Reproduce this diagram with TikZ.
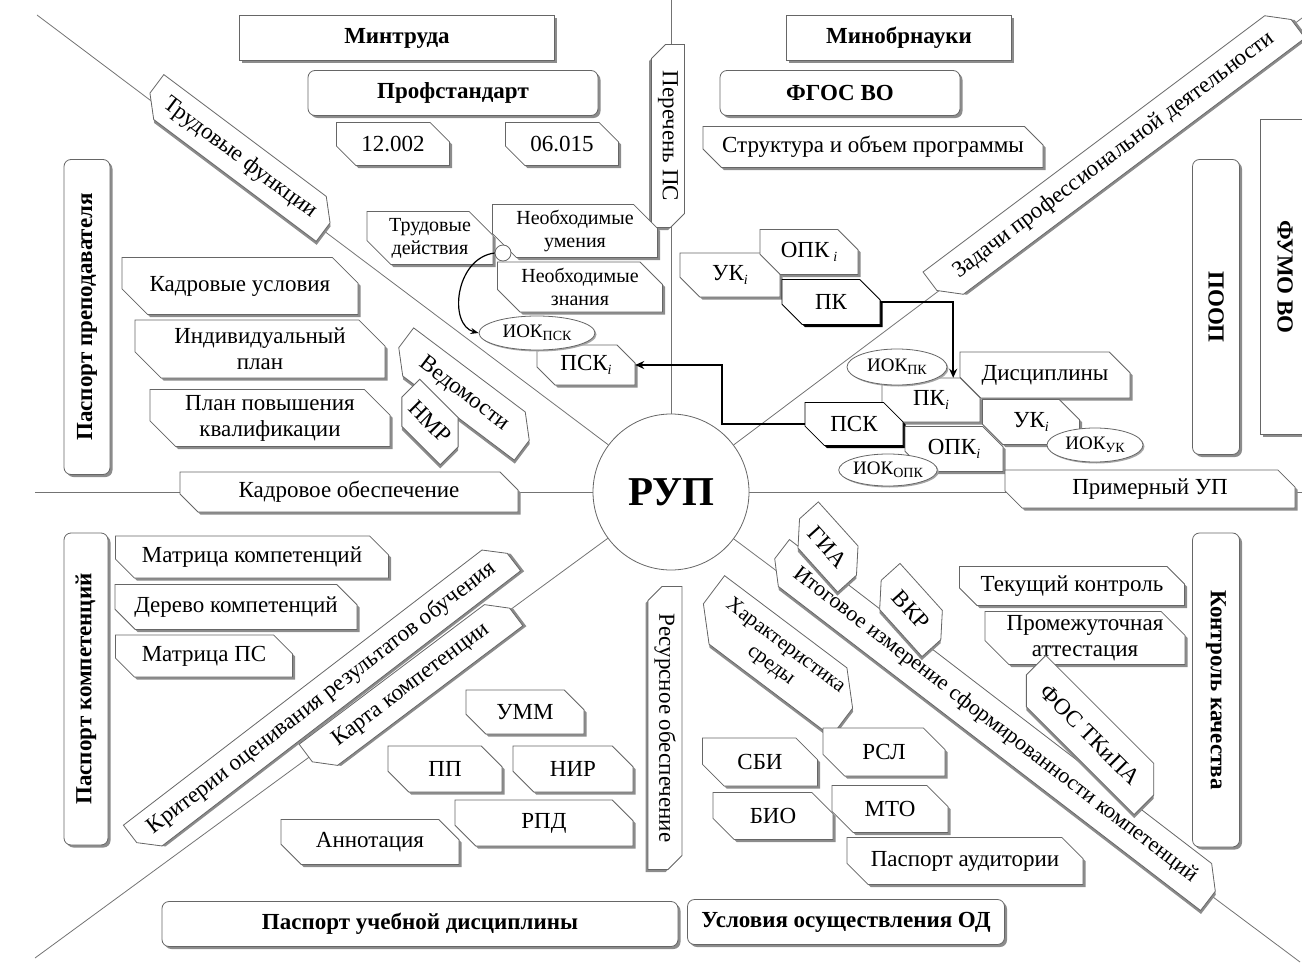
\documentclass[tikz,border=0pt]{standalone}
\usepackage{fontspec}
\setmainfont{Liberation Serif}
\usetikzlibrary{shapes.geometric,calc,arrows.meta}

\def\snipcut{-1}
\newcommand\lowi[1]{\raisebox{-0.35ex}{\fontsize{14}{14}\selectfont #1}}

% box with two snipped corners: [options]{name}{x}{y}{width}{height}{angle}{text}
\newcommand\snipbox[8][]{%
  \begin{scope}[#1]%
    \pgfmathsetmacro\sbw{(#5)/2}%
    \pgfmathsetmacro\sbh{(#6)/2}%
    \pgfmathsetmacro\sbc{\snipcut<0 ? 0.45*(#6) : \snipcut}%
    \begin{scope}[shift={(#3,#4)}, rotate=#7]
      \fill[boxshade, shift={(2.5,2.5)}] (-\sbw,-\sbh) -- (\sbw-\sbc,-\sbh) -- (\sbw,-\sbh+\sbc) -- (\sbw,\sbh) -- (-\sbw+\sbc,\sbh) -- (-\sbw,\sbh-\sbc) -- cycle;
      \filldraw[boxedge] (-\sbw,-\sbh) -- (\sbw-\sbc,-\sbh) -- (\sbw,-\sbh+\sbc) -- (\sbw,\sbh) -- (-\sbw+\sbc,\sbh) -- (-\sbw,\sbh-\sbc) -- cycle;
    \end{scope}
    \node[boxtext, rotate=#7, minimum width=#5, minimum height=#6] (#2) at (#3,#4) {#8};
  \end{scope}}

\begin{document}
\begin{tikzpicture}[x=1pt, y=-1pt,
  boxedge/.style={draw=black!60, line width=0.8pt, fill=white},
  boxshade/.style={fill=black!45},
  boxtext/.style={font=\fontsize{23}{26}\selectfont, align=center, inner sep=0pt},
  small/.style={boxtext/.append style={font=\fontsize{20}{23}\selectfont}},
  mid/.style={boxtext/.append style={font=\fontsize{22}{25}\selectfont}},
  strong/.style={boxshade/.style={fill=black}, boxedge/.append style={draw=black}},
  snipcut/.store in=\snipcut,
  rbox/.style={rectangle, rounded corners=7pt, draw=black!60, line width=0.8pt, fill=white,
    inner sep=0pt, align=center, preaction={fill=black!45, transform canvas={xshift=2.5pt, yshift=-2.5pt}}},
  pbox/.style={rectangle, draw=black!60, line width=0.8pt, fill=white,
    inner sep=0pt, align=center, preaction={fill=black!45, transform canvas={xshift=2.5pt, yshift=-2.5pt}}},
  ttl/.style={font=\fontsize{23}{26}\selectfont\bfseries},
  oval/.style={ellipse, draw=black!60, line width=0.8pt, fill=white, inner sep=0pt, font=\fontsize{19}{21}\selectfont,
    preaction={fill=black!35, transform canvas={xshift=1.5pt, yshift=-1.5pt}}},
  spoke/.style={draw=black!55, line width=0.8pt},
  link/.style={draw=black, line width=1.8pt, -{Stealth[length=9pt,width=8pt]}},
  hub/.style={circle, draw=black!60, line width=0.8pt, fill=white, minimum size=156pt, inner sep=0pt,
    font=\fontsize{41}{41}\selectfont\bfseries}]

\useasboundingbox (0,0) rectangle (1302,966);

% centre and spokes
\node[hub] (rup) at (671,492) {РУП};
\coordinate (nEnd) at (671,0);
\coordinate (wEnd) at (35,492);
\coordinate (eEnd) at (1302,492);
\coordinate (nwEnd) at (37,15);
\coordinate (neEnd) at (1302,18);
\coordinate (swEnd) at (35,958);
\coordinate (seEnd) at (1300,962);
\draw[spoke] (nEnd) -- (rup);
\draw[spoke] (wEnd) -- (rup);
\draw[spoke] (rup) -- (eEnd);
\draw[spoke] (nwEnd) -- (rup);
\draw[spoke] (rup) -- (neEnd);
\draw[spoke] (swEnd) -- (rup);
\draw[spoke] (rup) -- (seEnd);

% top
\node[pbox, ttl, minimum width=315, minimum height=45] (mintr) at (397,38) {Минтруда};
\node[rbox, ttl, minimum width=290, minimum height=45] (prof) at (453,93) {Профстандарт};
\snipbox{s12}{393}{144}{113}{43}{0}{12.002}
\snipbox{s06}{562}{144}{113}{43}{0}{06.015}
\snipbox[snipcut=14]{perech}{668}{136}{183}{33}{-90}{Перечень ПС}
\node[pbox, ttl, minimum width=225, minimum height=45] (minobr) at (899,38) {Минобрнауки};
\node[rbox, ttl, minimum width=240, minimum height=45] (fgos) at (840,93) {ФГОС ВО};
\snipbox{struct}{873}{147}{340}{41}{0}{Структура и объем программы}
\snipbox{zadachi}{1114}{155}{446}{42}{36.87}{Задачи профессиональной деятельности}
\node[pbox, ttl, rotate=-90, minimum width=315, minimum height=50] (fumo) at (1285,277) {ФУМО ВО};
\node[rbox, ttl, rotate=-90, minimum width=295, minimum height=47] (poop) at (1216,307) {ПООП};

% upper left
\snipbox{trudf}{240}{158}{222}{42}{-36.87}{Трудовые функции}
\node[rbox, ttl, rotate=90, minimum width=315, minimum height=46] (pprep) at (87,317) {Паспорт преподавателя};
\snipbox{kadu}{240}{286}{236}{57}{0}{Кадровые условия}
\snipbox{indiv}{260}{349}{250}{58}{0}{Индивидуальный\\план}
\snipbox{plan}{270}{418}{240}{57}{0}{План повышения\\квалификации}
\snipbox{vedom}{464}{394}{160}{45}{-37}{Ведомости}
\snipbox{nmr}{430}{422}{75}{46}{-45}{НМР}
\snipbox[small]{trud}{430}{238}{126}{53}{0}{Трудовые\\действия}
\snipbox[small]{neum}{575}{231}{165}{53}{0}{Необходимые\\умения}
\snipbox[small]{nezn}{580}{287}{165}{50}{0}{Необходимые\\знания}
\snipbox{pski}{586}{365}{98}{40}{0}{ПСК\lowi{\itshape i}}
\node[oval, minimum width=116, minimum height=34] (iokpsk) at (537,333) {ИОК\lowi{ПСК}};
\node[circle, draw=black!60, line width=0.8pt, fill=white, minimum size=16pt, inner sep=0pt] (dot) at (503,253) {};
\snipbox{kadob}{349}{492}{338}{40}{0}{Кадровое обеспечение}

% upper right: competences
\snipbox{uki1}{730}{275}{100}{44}{0}{УК\lowi{\itshape i}}
\snipbox{opki1}{809}{252}{98}{45}{0}{ОПК\,\lowi{\itshape i}}
\snipbox[strong]{pk}{831}{302}{98}{45}{0}{ПК}
\snipbox{disc}{1045}{375}{170}{46}{0}{Дисциплины}
\snipbox{pki}{931}{400}{98}{44}{0}{ПК\lowi{\itshape i}}
\node[oval, minimum width=100, minimum height=36] (iokpk) at (897,367) {ИОК\lowi{ПК}};
\snipbox[strong]{psk}{854}{424}{98}{43}{0}{ПСК}
\snipbox{uki2}{1031}{422}{97}{45}{0}{УК\lowi{\itshape i}}
\snipbox{opki2}{954}{449}{98}{45}{0}{ОПК\lowi{\itshape i}}
\node[oval, minimum width=96, minimum height=32] (iokopk) at (888,470) {ИОК\lowi{ОПК}};
\node[oval, minimum width=96, minimum height=34] (iokuk) at (1095,445) {ИОК\lowi{УК}};
\snipbox{primer}{1150}{489}{290}{38}{0}{Примерный УП}

% lower left
\node[rbox, ttl, rotate=90, minimum width=312, minimum height=44] (pkomp) at (86,689) {Паспорт компетенций};
\snipbox{matk}{252}{557}{273}{42}{0}{Матрица компетенций}
\snipbox{derevo}{236}{607}{242}{45}{0}{Дерево компетенций}
\snipbox{matps}{204}{656}{177}{42}{0}{Матрица ПС}
\snipbox{krit}{322}{698}{470}{40}{37.5}{Критерии оценивания результатов обучения}
\snipbox{karta}{411}{685}{250}{40}{37}{Карта компетенции}
\snipbox{umm}{525}{712}{118}{44}{0}{УММ}
\snipbox{pp}{445}{769}{114}{46}{0}{ПП}
\snipbox{nir}{573}{769}{120}{46}{0}{НИР}
\snipbox{rpd}{544}{823}{178}{46}{0}{РПД}
\snipbox{annot}{370}{842}{178}{45}{0}{Аннотация}
\node[rbox, ttl, minimum width=516, minimum height=45] (pud) at (420,924) {Паспорт учебной дисциплины};

% lower right
\snipbox[snipcut=14]{resurs}{665}{728}{283}{34}{-90}{Ресурсное обеспечение}
\snipbox[mid]{itog}{995}{725}{552}{44}{-37.5}{Итоговое измерение сформированности компетенций}
\snipbox{gia}{828}{547}{80}{46}{-48}{ГИА}
\snipbox{vkr}{911}{610}{84}{46}{-48}{ВКР}
\snipbox[boxtext/.append style={font=\fontsize{21}{24}\selectfont}]{harak}{778}{656}{182}{64}{-37}{Характеристика\\среды}
\snipbox{tek}{1072}{586}{225}{39}{0}{Текущий контроль}
\snipbox{prom}{1085}{638}{200}{53}{0}{Промежуточная\\аттестация}
\snipbox{fos}{1090}{735}{175}{50}{-45}{ФОС ТКиПА}
\node[rbox, ttl, rotate=-90, minimum width=314, minimum height=47] (kk) at (1216,690) {Контроль качества};
\snipbox{sbi}{760}{762}{115}{48}{0}{СБИ}
\snipbox{rsl}{884}{752}{122}{48}{0}{РСЛ}
\snipbox{bio}{773}{816}{120}{47}{0}{БИО}
\snipbox{mto}{890}{809}{116}{47}{0}{МТО}
\snipbox{paud}{965}{861}{236}{47}{0}{Паспорт аудитории}
\node[rbox, ttl, minimum width=317, minimum height=45] (uslov) at (846,922) {Условия осуществления ОД};

% connectors
\draw[black, line width=1.2pt, -{Stealth[length=8pt,width=6pt]}] (dot.west) .. controls (455,258) and (448,325) .. (iokpsk.west);
\draw[link] (pk.east) -| ([xshift=-27pt]pki.north east);
\draw[link] (psk.west) -- ++(-83,0) |- (pski.east);
\end{tikzpicture}
\end{document}
